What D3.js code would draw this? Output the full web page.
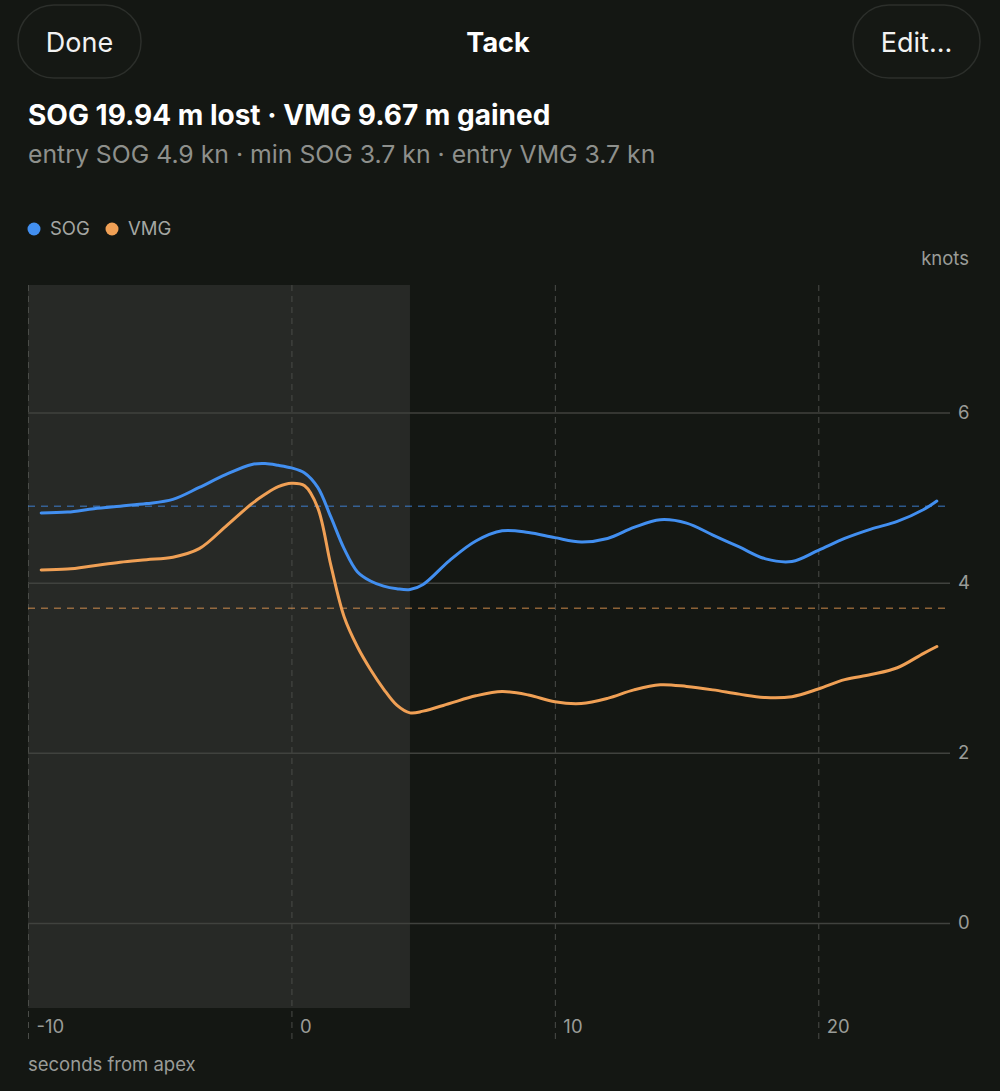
<!DOCTYPE html>
<html>
<head>
<meta charset="utf-8">
<script src="https://cdn.jsdelivr.net/npm/d3@7"></script>
<style>
  html, body { margin: 0; padding: 0; background: #141713; }
  svg { display: block; font-family: Inter, "Noto Sans", sans-serif; }
</style>
</head>
<body>
<svg id="chart" width="1000" height="1091"></svg>
<script>
// seconds from apex
var seconds = [-9.5, -8.5, -7.5, -6.5, -5.5, -4.5, -3.5, -2.5, -1.5, -1, -0.5, 0, 0.5, 1, 1.5, 2, 2.5, 3, 3.5, 4, 4.5, 5,
               6, 7, 8, 9, 10, 11, 12, 13, 14, 15, 16, 17, 18, 19, 20, 21, 22, 23, 24, 24.5];
// speed over ground, knots
var sog = [4.82, 4.83, 4.87, 4.90, 4.93, 4.98, 5.12, 5.27, 5.39, 5.40, 5.38, 5.35, 5.29, 5.12, 4.77, 4.40, 4.13, 4.02, 3.96, 3.93, 3.92, 3.98,
           4.26, 4.49, 4.61, 4.59, 4.53, 4.48, 4.52, 4.65, 4.74, 4.70, 4.56, 4.42, 4.28, 4.25, 4.38, 4.52, 4.63, 4.72, 4.86, 4.96];
// velocity made good, knots
var vmg = [4.15, 4.16, 4.20, 4.24, 4.27, 4.30, 4.40, 4.66, 4.93, 5.04, 5.13, 5.17, 5.14, 4.88, 4.20, 3.60, 3.25, 2.98, 2.75, 2.56, 2.47, 2.49,
           2.58, 2.67, 2.72, 2.68, 2.60, 2.58, 2.64, 2.74, 2.80, 2.78, 2.74, 2.69, 2.65, 2.66, 2.75, 2.86, 2.92, 3.00, 3.17, 3.25];
var entrySog = 4.9;
var entryVmg = 3.7;
var maneuverWindow = [-10, 4.5];   // shaded part
var xTicks = [-10, 0, 10, 20];
var yTicks = [0, 2, 4, 6];

var blue = "#428ff0", orange = "#f0a055";
var grey = "#9a9c98";

var svg = d3.select("#chart");

// header buttons
function pill(x, w, label){
  svg.append("rect").attr("x", x).attr("y", 5).attr("width", w).attr("height", 73)
    .attr("rx", 36).attr("fill", "#151814").attr("stroke", "#2c2f2b").attr("stroke-width", 1.5);
  svg.append("text").attr("x", x + w / 2).attr("y", 43).attr("dy", "0.35em")
    .attr("text-anchor", "middle").attr("fill", "#f2f2f2").attr("font-size", 27).text(label);
}
pill(18, 123, "Done");
pill(853, 127, "Edit...");
svg.append("text").attr("x", 498).attr("y", 43).attr("dy", "0.35em").attr("text-anchor", "middle")
  .attr("fill", "#fff").attr("font-size", 27).attr("font-weight", 700).text("Tack");

svg.append("text").attr("x", 28).attr("y", 115).attr("dy", "0.35em")
  .attr("fill", "#fff").attr("font-size", 28).attr("font-weight", 700)
  .text("SOG 19.94 m lost · VMG 9.67 m gained");
svg.append("text").attr("x", 28).attr("y", 154).attr("dy", "0.35em")
  .attr("fill", "#8e908c").attr("font-size", 24.8)
  .text("entry SOG 4.9 kn · min SOG 3.7 kn · entry VMG 3.7 kn");

// legend
var legend = [["SOG", blue, 34], ["VMG", orange, 112]];
legend.forEach(function(d){
  svg.append("circle").attr("cx", d[2]).attr("cy", 229).attr("r", 6.5).attr("fill", d[1]);
  svg.append("text").attr("x", d[2] + 16).attr("y", 229).attr("dy", "0.35em")
    .attr("fill", "#a5a7a3").attr("font-size", 18.5).text(d[0]);
});

// scales
var x = d3.scaleLinear().domain([-10, 25]).range([28, 950]);
var y = d3.scaleLinear().domain([-1, 7.5]).range([1008, 285]);

// shaded window
svg.append("rect")
  .attr("x", x(maneuverWindow[0])).attr("y", y(7.5))
  .attr("width", x(maneuverWindow[1]) - x(maneuverWindow[0]))
  .attr("height", y(-1) - y(7.5))
  .attr("fill", "#272926");

// vertical dashed grid + x labels
var xAxis = svg.append("g").attr("transform", "translate(0," + y(7.5) + ")")
  .call(d3.axisBottom(x).tickValues(xTicks).tickSize(755).tickFormat(function(d){ return String(d); }));
xAxis.select(".domain").remove();
xAxis.selectAll("line").attr("stroke", "#4a4c48").attr("stroke-dasharray", "6,5");
xAxis.selectAll("text").attr("x", 8).attr("y", 742).attr("dy", "0.35em")
  .attr("text-anchor", "start").attr("fill", grey).attr("font-size", 18.5).attr("font-family", "Inter, sans-serif");

// horizontal grid + y labels
var yAxis = svg.append("g").attr("transform", "translate(" + x(25) + ",0)")
  .call(d3.axisRight(y).tickValues(yTicks).tickSize(-(x(25) - x(-10))).tickPadding(8));
yAxis.select(".domain").remove();
yAxis.selectAll("line").attr("stroke", "#40423e").attr("stroke-width", 1.5);
yAxis.selectAll("text").attr("fill", grey).attr("font-size", 18.5).attr("font-family", "Inter, sans-serif");

svg.append("text").attr("x", 969).attr("y", 259).attr("dy", "0.35em").attr("text-anchor", "end")
  .attr("fill", grey).attr("font-size", 18.5).text("knots");
svg.append("text").attr("x", 28).attr("y", 1065).attr("dy", "0.35em")
  .attr("fill", grey).attr("font-size", 18.5).text("seconds from apex");

// entry reference lines
[[entrySog, blue], [entryVmg, orange]].forEach(function(d){
  svg.append("line").attr("x1", x(-10)).attr("x2", x(25))
    .attr("y1", y(d[0])).attr("y2", y(d[0]))
    .attr("stroke", d[1]).attr("stroke-opacity", 0.55).attr("stroke-width", 1.5)
    .attr("stroke-dasharray", "7,6");
});

// series
var line = d3.line().curve(d3.curveCatmullRom.alpha(0.5))
  .x(function(d){ return x(d[0]); })
  .y(function(d){ return y(d[1]); });

[[vmg, orange], [sog, blue]].forEach(function(s){
  svg.append("path")
    .datum(seconds.map(function(t, i){ return [t, s[0][i]]; }))
    .attr("fill", "none").attr("stroke", s[1]).attr("stroke-width", 3)
    .attr("stroke-linejoin", "round").attr("stroke-linecap", "round")
    .attr("d", line);
});
</script>
</body>
</html>
